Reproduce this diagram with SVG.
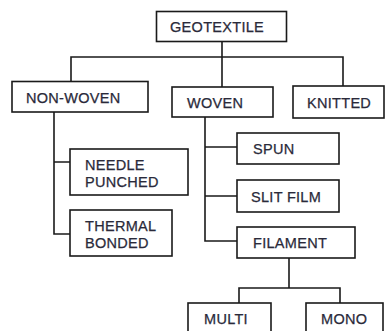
<svg xmlns="http://www.w3.org/2000/svg" width="385" height="331" viewBox="0 0 385 331">
<style>
rect{fill:#fff;stroke:#1a1a1a;stroke-width:1.6}
.c path{fill:none;stroke:#1a1a1a;stroke-width:1.6}
text{font-family:"Liberation Sans",Arial,sans-serif;font-size:14.5px;letter-spacing:0.3px;fill:#2a2a3a;stroke:#2a2a3a;stroke-width:0.25}
</style>
<rect x="0" y="0" width="385" height="331" style="fill:#fff;stroke:none"/>
<g class="c" id="connectors">
<path d="M222 41V87M71 81.5V57H343V86"/>
<path d="M54 112V234H70M54 162H70"/>
<path d="M205 117V241H237M205 147H237M205 196H237"/>
<path d="M289 258V288M239 303V288H340V303"/>
</g>
<g id="geotextile"><rect x="156.5" y="11.5" width="130" height="30"/><text x="170" y="31.5">GEOTEXTILE</text></g>
<g id="nonwoven"><rect x="12" y="81.5" width="136" height="30.5"/><text x="26" y="103">NON-WOVEN</text></g>
<g id="woven"><rect x="172" y="87" width="101" height="30"/><text x="187" y="108">WOVEN</text></g>
<g id="knitted"><rect x="293" y="86" width="91" height="32"/><text x="307" y="107.5">KNITTED</text></g>
<g id="needle"><rect x="70" y="149" width="118" height="46"/><text x="85" y="170">NEEDLE</text><text x="85" y="186.5">PUNCHED</text></g>
<g id="thermal"><rect x="70" y="210" width="102" height="46"/><text x="85" y="231">THERMAL</text><text x="85" y="247.5">BONDED</text></g>
<g id="spun"><rect x="237" y="133" width="102" height="31"/><text x="253" y="154">SPUN</text></g>
<g id="slitfilm"><rect x="237" y="180" width="102" height="32"/><text x="251" y="201.5">SLIT FILM</text></g>
<g id="filament"><rect x="237" y="227" width="118" height="31"/><text x="253" y="248">FILAMENT</text></g>
<g id="multi"><rect x="188" y="303" width="83" height="40"/><text x="204" y="324">MULTI</text></g>
<g id="mono"><rect x="306" y="303" width="77" height="40"/><text x="321" y="324">MONO</text></g>
</svg>
